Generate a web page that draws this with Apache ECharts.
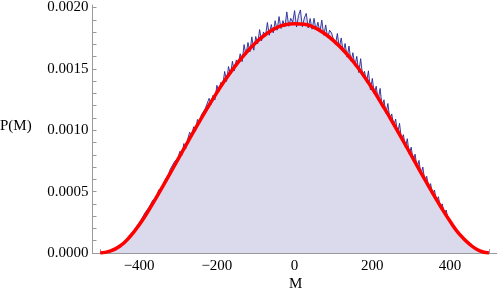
<!DOCTYPE html>
<html>
<head>
<meta charset="utf-8">
<script src="https://cdn.jsdelivr.net/npm/echarts@6/dist/echarts.min.js"></script>
<style>html,body{margin:0;padding:0;background:#fff;}#c{width:498px;height:299px;}</style>
</head>
<body>
<div id="c"></div>
<script>
// Axis ticks / labels
var xTickLabels = [-400, -200, 0, 200, 400];
var xTicks = [-500,-450,-400,-350,-300,-250,-200,-150,-100,-50,0,50,100,150,200,250,300,350,400,450,500];
var yTickLabels = [0, 0.0005, 0.0010, 0.0015, 0.0020];
var yTicks = [0,0.0001,0.0002,0.0003,0.0004,0.0005,0.0006,0.0007,0.0008,0.0009,0.0010,0.0011,0.0012,0.0013,0.0014,0.0015,0.0016,0.0017,0.0018,0.0019,0.0020];

// Histogram (sampled P(M), units of 1e-6), bins from M=-500 in steps of 5
var histStart = -500;
var histStep = 5;
var histValuesE6 = [
  0,1,2,6,8,16,22,34,37,50,
  57,74,82,106,110,133,156,163,201,203,
  242,269,266,327,319,370,368,430,419,443,
  514,502,525,588,585,636,682,667,739,724,
  777,829,796,891,849,929,984,946,1028,992,
  1088,1054,1124,1110,1176,1165,1260,1210,1284,1247,
  1366,1315,1389,1363,1479,1398,1519,1452,1562,1484,
  1573,1543,1623,1559,1698,1615,1715,1639,1761,1652,
  1764,1704,1820,1729,1801,1766,1878,1774,1861,1793,
  1893,1815,1926,1829,1893,1841,1964,1847,1912,1880,
  1975,
  1841,1935,1980,1842,1915,1952,1833,1910,1823,1912,
  1818,1880,1802,1897,1774,1858,1752,1815,1793,1741,
  1698,1788,1675,1752,1639,1707,1595,1686,1563,1632,
  1526,1602,1470,1583,1442,1480,1390,1484,1330,1422,
  1299,1359,1245,1341,1196,1248,1138,1218,1089,1133,
  1034,1091,974,1056,924,964,858,931,805,862,
  754,805,697,754,643,700,587,625,530,565,
  476,513,423,458,375,400,322,350,275,276,
  229,236,184,186,144,144,113,110,84,77,
  60,54,39,32,19,13,6,3,1,0
];

// Fitted curve (units of 1e-6)
var curveM = [-500,-475,-450,-425,-400,-375,-350,-325,-300,-275,-250,-225,-200,-175,-150,-125,-100,-75,-50,-25,0,25,50,75,100,125,150,175,200,225,250,275,300,325,350,375,400,425,450,475,500];
var curveE6 = [0,15,55,128,229,350,483,622,763,904,1043,1178,1307,1427,1535,1631,1713,1780,1830,1859,1868,1864,1838,1792,1730,1654,1562,1457,1340,1210,1077,938,797,655,516,383,258,150,72,20,0];

var histData = histValuesE6.map(function(v, i){ return [histStart + i*histStep, v*1e-6]; });
var curveData = curveM.map(function(m, i){ return [m, curveE6[i]*1e-6]; });

var font = 'Liberation Serif';
var axisGray = '#9a9a9a';

var chart = echarts.init(document.getElementById('c'), null, {renderer:'canvas'});
chart.setOption({
  animation: false,
  backgroundColor: '#fff',
  grid: {left: 92.5, right: 1.3, top: 4.5, bottom: 46, containLabel: false},
  xAxis: {
    type: 'value', min: -520, max: 520,
    axisLine: {show: true, onZero: false, lineStyle: {color: axisGray, width: 1}},
    axisTick: {show: true, inside: true, length: 4, customValues: xTicks, lineStyle: {color: axisGray}},
    axisLabel: {customValues: xTickLabels, margin: 6, color: '#000', fontFamily: font, fontSize: 15,
      formatter: function(v){ return v < 0 ? '\u2212' + Math.abs(v) : String(v); }},
    splitLine: {show: false}
  },
  yAxis: {
    type: 'value', min: 0, max: 0.00202,
    axisLine: {show: true, onZero: false, lineStyle: {color: axisGray, width: 1}},
    axisTick: {show: true, inside: true, length: 4, customValues: yTicks, lineStyle: {color: axisGray}},
    axisLabel: {customValues: yTickLabels, margin: 4, color: '#000', fontFamily: font, fontSize: 15,
      formatter: function(v){ return v.toFixed(4); }},
    splitLine: {show: false}
  },
  graphic: [
    {type: 'text', left: 0, top: 119, style: {text: 'P(M)', font: '15px "Liberation Serif"', fill: '#000'}},
    {type: 'text', left: 289, top: 277, style: {text: 'M', font: '15px "Liberation Serif"', fill: '#000'}}
  ],
  series: [
    {
      type: 'line', data: histData, showSymbol: false, symbol: 'none',
      lineStyle: {color: 'rgba(40,40,150,0.9)', width: 1},
      areaStyle: {color: '#dadaec', opacity: 1},
      z: 2
    },
    {
      type: 'line', data: curveData, showSymbol: false, symbol: 'none', smooth: true,
      lineStyle: {color: '#ff0000', width: 3.5},
      z: 3
    }
  ]
});
</script>
</body>
</html>
